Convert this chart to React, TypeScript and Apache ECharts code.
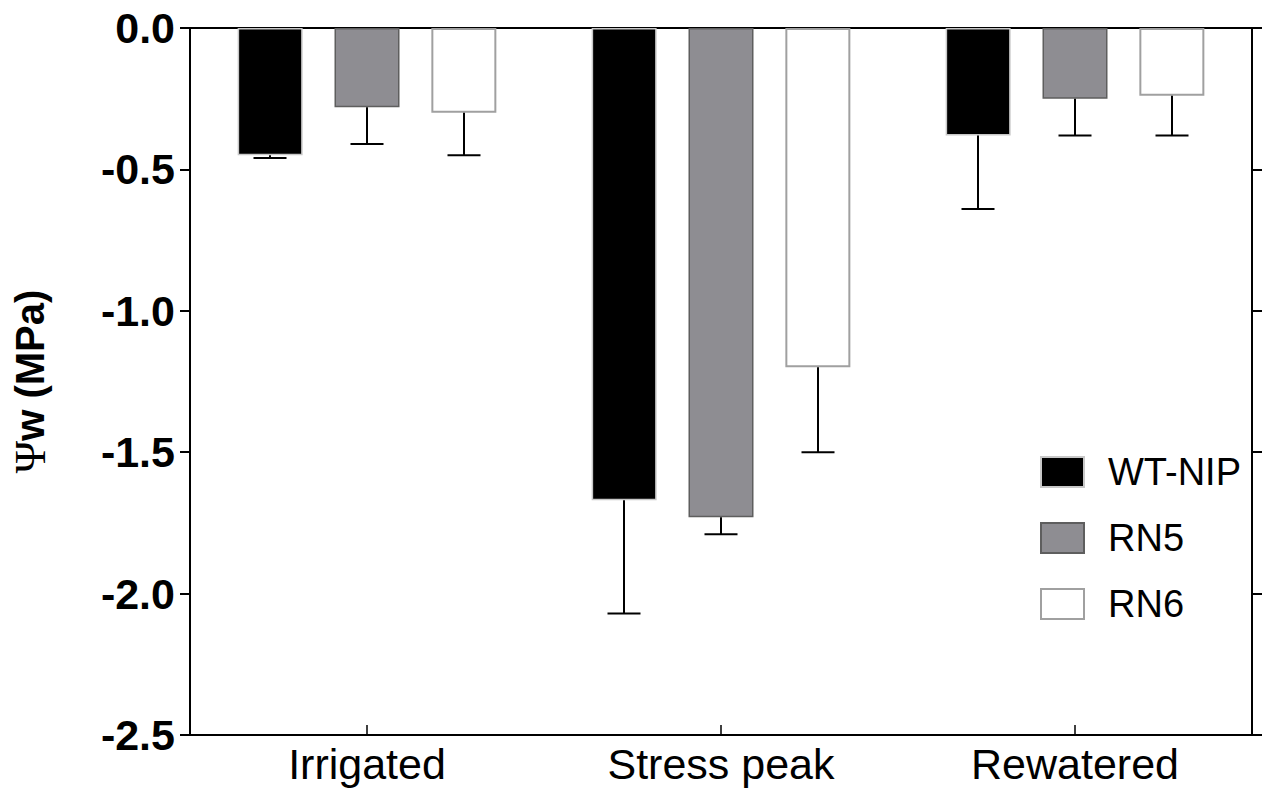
import React, { useEffect, useRef } from "react";
import * as echarts from "echarts";

const categories = ["Irrigated", "Stress peak", "Rewatered"];
const seriesNames = ["WT-NIP", "RN5", "RN6"];
const wtValues = [-0.45, -1.67, -0.38];
const rn5Values = [-0.28, -1.73, -0.25];
const rn6Values = [-0.3, -1.2, -0.24];
const wtErr = [0.01, 0.4, 0.26];
const rn5Err = [0.13, 0.06, 0.13];
const rn6Err = [0.15, 0.3, 0.14];
const yTicks = [0, -0.5, -1.0, -1.5, -2.0, -2.5];

const FONT = '"Liberation Sans", Arial, Helvetica, sans-serif';
const BAR_W = 65;
const BAR_STEP = 97;
const CAP_W = 33;

export default function App() {
  const ref = useRef<HTMLDivElement>(null);
  useEffect(() => {
    if (!ref.current) return;
    const chart = echarts.init(ref.current, undefined, { renderer: "svg" });
    const values = [wtValues, rn5Values, rn6Values];
    const errs = [wtErr, rn5Err, rn6Err];
    const styles = [
      { color: "#000000", borderColor: "#c8c8c8", borderWidth: 1.5 },
      { color: "#8e8d92", borderColor: "#5e5e5e", borderWidth: 1.5 },
      { color: "#ffffff", borderColor: "#a0a0a0", borderWidth: 2 },
    ];
    const barSeries = seriesNames.map((name, i) => ({
      name,
      type: "bar",
      data: values[i],
      barWidth: BAR_W,
      barGap: "49%",
      itemStyle: styles[i],
      xAxisIndex: 0,
      yAxisIndex: 0,
    }));
    const errSeries = seriesNames.map((name, i) => ({
      name: name + " SD",
      type: "custom",
      xAxisIndex: 0,
      yAxisIndex: 0,
      z: 5,
      data: categories.map((_, c) => [c, values[i][c], values[i][c] - errs[i][c]]),
      encode: { x: 0, y: [1, 2] },
      renderItem: (params: any, api: any) => {
        const c = api.value(0);
        const top = api.coord([c, api.value(1)]);
        const bot = api.coord([c, api.value(2)]);
        const x = top[0] + (i - 1) * BAR_STEP;
        const st = { stroke: "#000", lineWidth: 2 };
        return {
          type: "group",
          children: [
            { type: "line", shape: { x1: x, y1: top[1], x2: x, y2: bot[1] }, style: st },
            { type: "line", shape: { x1: x - CAP_W / 2, y1: bot[1], x2: x + CAP_W / 2, y2: bot[1] }, style: st },
          ],
        };
      },
    }));
    const axisLine = { show: true, onZero: false, lineStyle: { color: "#000", width: 2 } };
    chart.setOption({
      animation: false,
      backgroundColor: "#ffffff",
      grid: { left: 190, right: 20, top: 28, bottom: 68 },
      legend: {
        data: seriesNames,
        orient: "vertical",
        left: 1040,
        top: 453,
        padding: 0,
        itemWidth: 43,
        itemHeight: 30,
        itemGap: 28,
        icon: "rect",
        textStyle: {
          fontFamily: FONT,
          fontSize: 38,
          lineHeight: 38,
          color: "#000",
          padding: [0, 0, 0, 19],
        },
      },
      xAxis: [
        {
          type: "category",
          data: categories,
          position: "bottom",
          axisLine,
          axisTick: { show: true, alignWithLabel: true, inside: true, length: 10, lineStyle: { color: "#000", width: 1.5 } },
          axisLabel: { fontFamily: FONT, fontSize: 43, color: "#000", margin: 7 },
        },
        {
          type: "category",
          data: categories,
          position: "top",
          axisLine,
          axisTick: { show: false },
          axisLabel: { show: false },
        },
      ],
      yAxis: [
        {
          type: "value",
          min: -2.5,
          max: 0,
          interval: 0.5,
          position: "left",
          axisLine,
          axisTick: { show: true, length: 10, lineStyle: { color: "#000", width: 2 } },
          splitLine: { show: false },
          axisLabel: {
            fontFamily: FONT,
            fontSize: 43,
            fontWeight: "bold",
            color: "#000",
            margin: 15,
            formatter: (v: number) => {
              const t = yTicks.find((y) => Math.abs(y - v) < 1e-9);
              return (t === undefined ? v : t).toFixed(1);
            },
          },
          name: "{psi|Ψ}w (MPa)",
          nameLocation: "middle",
          nameRotate: 90,
          nameGap: 138,
          nameTextStyle: {
            fontFamily: FONT,
            fontSize: 40,
            fontWeight: "bold",
            color: "#000",
            rich: {
              psi: { fontFamily: '"Liberation Serif", "DejaVu Serif", serif', fontSize: 44, fontWeight: "normal", color: "#000" },
            },
          },
        },
        {
          type: "value",
          min: -2.5,
          max: 0,
          interval: 0.5,
          position: "right",
          axisLine,
          axisTick: { show: true, length: 10, lineStyle: { color: "#000", width: 2 } },
          splitLine: { show: false },
          axisLabel: { show: false },
        },
      ],
      series: [...barSeries, ...errSeries],
    });
    return () => chart.dispose();
  }, []);
  return (
    <div
      ref={ref}
      style={{ position: "absolute", left: 0, top: 0, width: 1272, height: 803, background: "#fff" }}
    />
  );
}
